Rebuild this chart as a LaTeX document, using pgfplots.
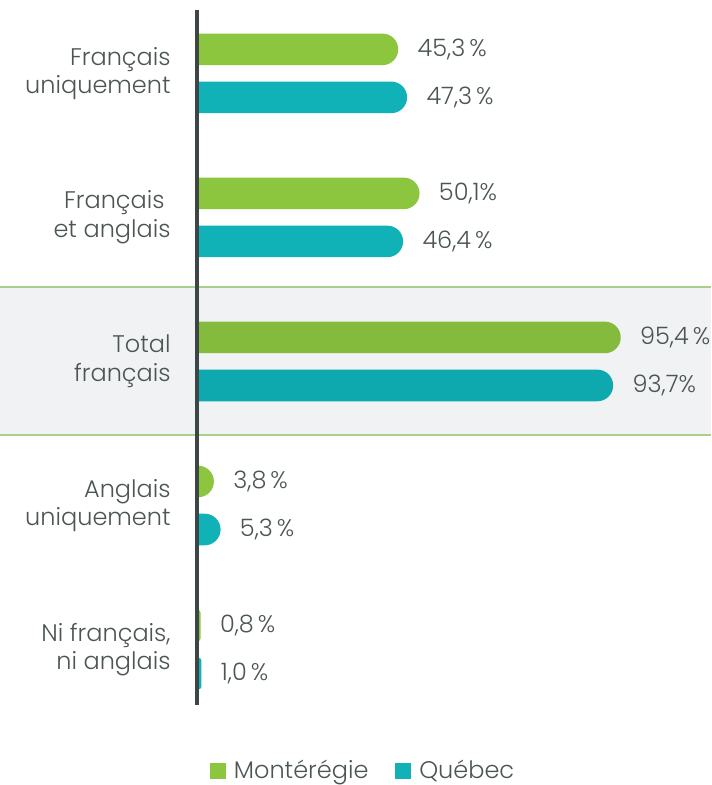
\documentclass[border=0pt]{standalone}
\usepackage{pgfplots}
\pgfplotsset{compat=1.18}
\usepackage{fontspec}
\setmainfont{Poppins Light}
\definecolor{mgreen}{HTML}{8CC63F}
\definecolor{mgreenb}{HTML}{84BB3C}
\definecolor{qteal}{HTML}{10B2B8}
\definecolor{qtealb}{HTML}{0EA8AF}
\definecolor{txt}{HTML}{4B5553}
\definecolor{axisc}{HTML}{3C4646}
\definecolor{band}{HTML}{F0F2F4}
\definecolor{bandline}{HTML}{A8D08A}

\begin{document}
\begin{tikzpicture}[font=\fontsize{12}{14.25}\selectfont]
% page frame and the grey band behind the total (axis box south west is at 0,0)
\useasboundingbox (-98.5pt,-40pt) rectangle (257pt,352.4pt);
\fill[band] (-98.5pt,135pt) rectangle (257pt,208.94pt);
\draw[bandline, line width=0.75pt] (-98.5pt,135pt) -- (257pt,135pt);
\draw[bandline, line width=0.75pt] (-98.5pt,208.94pt) -- (257pt,208.94pt);
\begin{axis}[
  x=2.22pt, y=72pt,
  xmin=0, xmax=115.77, ymin=-0.385, ymax=4.44,
  axis x line=none, axis y line*=left,
  axis line style={axisc, line width=2pt},
  axis on top,
  ytick={0,1,2,3,4},
  yticklabels={{Ni français,\\ni anglais},{Anglais\\uniquement},{Total\\français},{Français\kern3pt\\et anglais},{Français\\uniquement}},
  yticklabel style={align=right, inner sep=0pt, xshift=-13pt, text=txt},
  major tick length=0pt,
  xbar, bar width=15.8pt, bar shift=0pt,
  point meta=explicit symbolic,
  nodes near coords={\pgfplotspointmeta},
  nodes near coords style={anchor=west, inner sep=0pt, xshift=9.5pt, text=txt},
  legend style={draw=none, fill=none, at={(0.325,-0.095)}, anchor=center,
    legend columns=2, text=txt,
    /tikz/every even column/.append style={column sep=11.5pt}},
  legend cell align=left,
]
% rounded ends: bar starts left of the axis line (clipped), ends at the value
\addplot[forget plot, fill=mgreen, draw=none, rounded corners=7.9pt, xshift=-7.9pt,
  x filter/.expression={x+3.5586}] coordinates
  {(45.3,4.1667) [45,3\,\%] (50.1,3.1667) [50,1\%] (3.8,1.1667) [3,8\,\%]};
\addplot[forget plot, fill=qteal, draw=none, rounded corners=7.9pt, xshift=-7.9pt,
  x filter/.expression={x+3.5586}] coordinates
  {(47.3,3.8333) [47,3\,\%] (46.4,2.8333) [46,4\,\%] (5.3,0.8333) [5,3\,\%]};
\addplot[forget plot, fill=mgreenb, draw=none, rounded corners=7.9pt, xshift=-7.9pt,
  x filter/.expression={x+3.5586}] coordinates
  {(95.4,2.1667) [95,4\,\%]};
\addplot[forget plot, fill=qtealb, draw=none, rounded corners=7.9pt, xshift=-7.9pt,
  x filter/.expression={x+3.5586}] coordinates
  {(93.7,1.8333) [93,7\%]};
\addplot[forget plot, fill=mgreen, draw=none, rounded corners=1.5pt, xshift=-1.5pt,
  x filter/.expression={x+0.6757}] coordinates
  {(0.8,0.1667) [0,8\,\%]};
\addplot[forget plot, fill=qteal, draw=none, rounded corners=1.5pt, xshift=-1.5pt,
  x filter/.expression={x+0.6757}] coordinates
  {(1.0,-0.1667) [1,0\,\%]};

\addlegendimage{legend image code/.code={\fill[mgreen] (0pt,-3.75pt) rectangle (7.5pt,3.75pt);}}
\addlegendentry{\hspace{2pt}Montérégie}
\addlegendimage{legend image code/.code={\fill[qteal] (0pt,-3.75pt) rectangle (7.5pt,3.75pt);}}
\addlegendentry{\hspace{2pt}Québec}
\end{axis}
\end{tikzpicture}
\end{document}
